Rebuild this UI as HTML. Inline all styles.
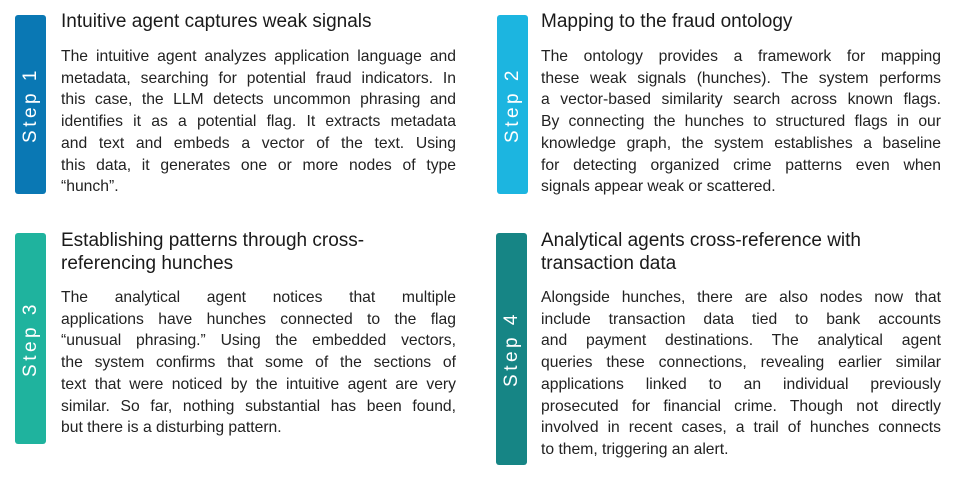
<!DOCTYPE html>
<html><head><meta charset="utf-8"><style>
body{margin:0;width:960px;height:479px;background:#fff;position:relative;overflow:hidden;font-family:"Liberation Sans",sans-serif;color:#222;}
.bar{position:absolute;width:31px;border-radius:3px;}
.lab{position:absolute;left:50%;top:50%;transform:translate(-50%,-50%) rotate(-90deg);color:#fff;font-size:19px;letter-spacing:3.5px;white-space:nowrap;}
.t{position:absolute;font-size:19px;line-height:23px;color:#1a1a1a;white-space:nowrap;}
.b{position:absolute;font-size:15.7px;line-height:21.7px;}
.b div{text-align:justify;text-align-last:justify;white-space:nowrap;}
.b div.l{text-align-last:left;}
</style></head><body>
<div class="bar" style="left:15px;top:15px;height:179px;background:#0a78b4"><div class="lab">Step 1</div></div>
<div class="bar" style="left:497px;top:15px;height:179px;background:#1cb5e0"><div class="lab">Step 2</div></div>
<div class="bar" style="left:15px;top:233px;height:211px;background:#1fb39e"><div class="lab">Step 3</div></div>
<div class="bar" style="left:496px;top:233px;height:232px;background:#168585"><div class="lab">Step 4</div></div>

<div class="t" style="left:61px;top:10px">Intuitive agent captures weak signals</div>
<div class="b" style="left:61px;top:46px;width:395px">
<div>The intuitive agent analyzes application language and</div>
<div>metadata, searching for potential fraud indicators. In</div>
<div>this case, the LLM detects uncommon phrasing and</div>
<div>identifies it as a potential flag. It extracts metadata</div>
<div>and text and embeds a vector of the text. Using</div>
<div>this data, it generates one or more nodes of type</div>
<div class="l">“hunch”.</div>
</div>

<div class="t" style="left:541px;top:10px">Mapping to the fraud ontology</div>
<div class="b" style="left:541px;top:46px;width:400px">
<div>The ontology provides a framework for mapping</div>
<div>these weak signals (hunches). The system performs</div>
<div>a vector-based similarity search across known flags.</div>
<div>By connecting the hunches to structured flags in our</div>
<div>knowledge graph, the system establishes a baseline</div>
<div>for detecting organized crime patterns even when</div>
<div class="l">signals appear weak or scattered.</div>
</div>

<div class="t" style="left:61px;top:229px">Establishing patterns through cross-<br>referencing hunches</div>
<div class="b" style="left:61px;top:287px;width:395px">
<div>The analytical agent notices that multiple</div>
<div>applications have hunches connected to the flag</div>
<div>“unusual phrasing.” Using the embedded vectors,</div>
<div>the system confirms that some of the sections of</div>
<div>text that were noticed by the intuitive agent are very</div>
<div>similar. So far, nothing substantial has been found,</div>
<div class="l">but there is a disturbing pattern.</div>
</div>

<div class="t" style="left:541px;top:229px">Analytical agents cross-reference with<br>transaction data</div>
<div class="b" style="left:541px;top:287px;width:400px">
<div>Alongside hunches, there are also nodes now that</div>
<div>include transaction data tied to bank accounts</div>
<div>and payment destinations. The analytical agent</div>
<div>queries these connections, revealing earlier similar</div>
<div>applications linked to an individual previously</div>
<div>prosecuted for financial crime. Though not directly</div>
<div>involved in recent cases, a trail of hunches connects</div>
<div class="l">to them, triggering an alert.</div>
</div>
</body></html>
